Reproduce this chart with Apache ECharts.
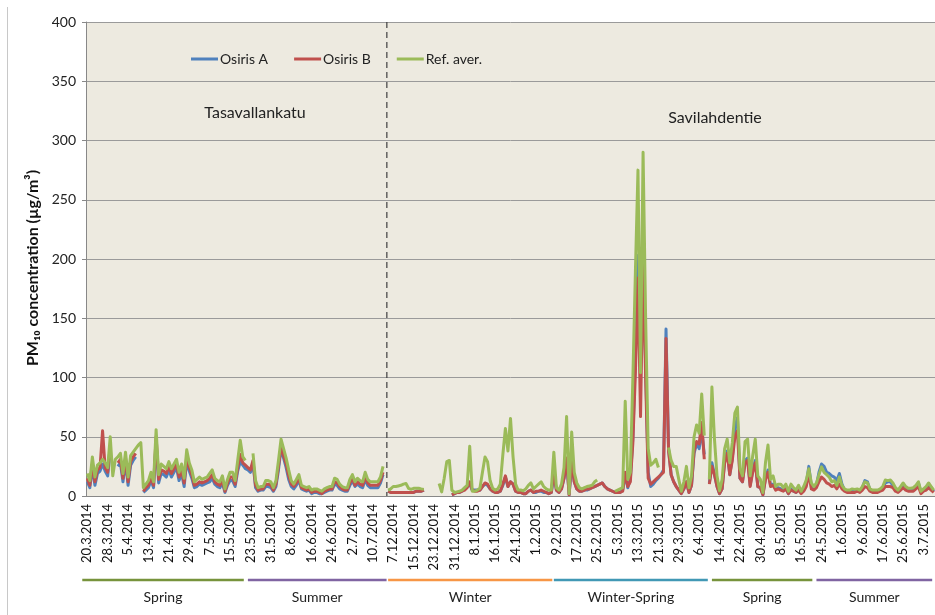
<!DOCTYPE html>
<html><head><meta charset="utf-8">
<script src="https://cdn.jsdelivr.net/npm/echarts@6/dist/echarts.min.js"></script>
<style>html,body{margin:0;padding:0;background:#fff;}#c{width:935px;height:615px;}</style>
</head><body><div id="c"></div>
<script>
// ---- categories: two measurement periods (daily) ----
const period1Start = [2014, 3, 20], period1Days = 118;   // Tasavallankatu
const period2Start = [2014, 12, 5], period2Days = 215;   // Savilahdentie

// ---- y axis ----
const yMin = 0, yMax = 400, yStep = 50;

// ---- series values (µg/m3) ----
const refAver2014 = [19,13,33,16,26,28,31,28,24,50, 17,31,33,36,19,37,16,34,37,40, 43,45,7,10,13,20,12,56,18,27,
  25,23,29,23,27,31,20,27,15,39, 28,22,12,14,16,14,15,16,19,22, 15,13,12,17,6,14,20,20,13,30,
  47,33,30,null,null,36,13,7,8,8, 13,13,12,7,13,30,48,40,32,22, 13,10,14,18,9,8,7,8,5,6,
  6,5,4,6,7,8,8,15,14,10, 8,7,7,14,18,12,15,13,12,20, 14,12,12,12,12,16,25,null];
const osirisB2014 = [15,9,27,12,22,24,55,24,20,42, null,null,28,31,15,32,12,29,33,36, null,null,4,7,9,16,9,50,14,22,
  21,19,25,19,23,27,16,22,11,33, 24,18,9,10,12,11,12,13,15,18, 12,10,9,13,4,11,16,16,10,24,
  35,28,26,24,22,30,9,5,6,6, 10,10,9,5,10,25,42,34,27,17, 10,8,11,15,7,6,5,6,3,4,
  4,3,2,4,5,6,6,12,11,8, 6,5,5,11,15,9,12,10,9,16, 11,9,9,9,9,13,20,null];
const osirisA2014 = [12,7,24,9,19,21,27,21,17,38, null,null,25,28,12,29,9,26,30,33, null,null,3,5,7,13,7,46,11,19,
  18,16,22,16,20,24,13,19,8,30, 21,15,7,8,10,9,10,11,12,15, 10,8,7,11,3,9,13,13,8,21,
  29,26,23,22,20,28,7,4,5,5, 8,8,7,4,8,22,40,32,24,14, 8,6,9,13,6,5,4,5,2,3,
  3,2,2,3,4,5,5,10,9,6, 5,4,4,9,13,8,10,8,7,14, 9,7,7,7,7,11,18,null];

const refAver2015 = [5,6,8,8,8.5,9,10,10.5,6.5,5.6,6.5,6.5,6.5,6,5.6,
  null,null,null,null,null,
  10.5,3.5,15,29,30,
  5,3,3.5,4,5,7,9,
  42,4,4,5,6.5,20,33,29,13,6.5,5,6,
  10,35,57,38,65.5,33,10,
  5,5,4.5,6,9,11,6,8,10,12,8,6,5,5,
  37,7,5,10,24,67,2,54,20,11,
  7,6,7,8,8.5,9,12,13.5,
  null,null,null,null,null,null,
  4,5,6,7,
  80,14,20,100,190,275,104,290,150,40,
  26,28,31,24,null,null,null,41,
  30,25,25,14,4,12,25,7,17,50,60,53,86,51,
  null,
  14,92,48,17,4.5,14,40,48,28,45,70,75,23,17,46,48,17,34,48,17,14,3,
  28,43,14,17,8,10,10,7,10,4,10,7,
  5,9,4,8,13.5,23,11,8,11,18, 24.6,20,18,16,12,13,9,16,9,6, 5,5,6,5.6,6,5,8,12,11,6,
  5,5,5,6,8,13.5,13,13.5,11,7, 5,8,11,8,6.5,6.5,7,9,12,4, 6,8,11,8,5];
const osirisB2015 = [4,3,3,3,3,3,3,3,3,3,3,4,4,4,5,
  null,null,null,null,null,null,null,null,null,null,
  1,2,3,3,4,5,7,
  12,5,4,4,5,8,11,10,6,4,3,3,
  4,10,17,8,12,10,4,
  3,3,2,2,4,5,3,4,4,5,4,3,2,3,
  20,5,3,6,15,32,1,30,12,6,
  4,4,5,6,6,7,8,9,
  10,11,8,6,5,4,
  3,3,3,4,
  20,8,12,45,105,184,67,197,100,15,
  10,12,14,16,18,20,133,38,
  18,12,8,5,2,6,12,3,9,38,46,44,62,31,
  null,
  10,25,18,8,2,6,28,36,18,30,50,55,15,12,28,30,8,20,28,8,7,1,
  14,20,8,9,5,6,5,4,6,2,5,4,
  3,5,2,4,8,19,6,5,7,12, 16,14,11,10,8,9,6,10,6,4, 3,3,3,3,4,3,5,8,7,4,
  3,3,3,4,5,8,8,8,7,4, 3,5,7,5,4,4,4,6,8,2, 4,5,7,5,3];
const osirisA2015 = [4,3,3,3,3,3,3,3,3,3,3,4,4,4,5,
  null,null,null,null,null,null,null,null,null,null,
  1,2,3,3,4,6,8,
  10,5,5,5,5,8,10,9,6,4,3,3,
  4,9,16,8,12,10,4,
  3,3,2,2,4,5,3,3,4,4,3,3,2,3,
  18,5,3,6,15,30,1,28,12,6,
  4,4,5,5,6,7,8,9,
  10,11,8,6,5,4,
  3,3,3,5,
  18,7,14,50,120,203,102,213,110,20,
  8,10,13,15,18,22,141,40,
  18,12,8,5,2,6,12,3,9,36,44,40,56,35,
  null,
  11,28,18,8,2,6,30,38,18,32,58,66,15,12,30,32,9,22,30,8,7,1,
  15,22,9,10,6,7,6,5,6,2,6,4,
  3,6,3,5,10,25,9,6,9,20, 27,25,20,19,17,16,13,19,10,5, 4,4,5,5,5,4,7,13,12,5,
  4,4,4,5,6,11,12,12,9,5, 4,7,10,7,5,5,6,8,11,3, 5,7,9,7,4];

// ---- seasons (annotation under the axis) ----
const seasonNames = ['Spring','Summer','Winter','Winter-Spring','Spring','Summer'];
const seasonFrom  = ['20.3.2014','22.5.2014','5.12.2014','8.2.2015','11.4.2015','22.5.2015'];
const seasonTo    = ['20.5.2014','15.7.2014','7.2.2015','9.4.2015','20.5.2015','6.7.2015'];
const seasonColors = ['#77933C','#8064A2','#F79646','#4198B5','#77933C','#8064A2'];

const siteNames = ['Tasavallankatu','Savilahdentie'];
const seriesNames = ['Osiris A','Osiris B','Ref. aver.'];
const seriesColors = ['#4F81BD','#C0504D','#9BBB59'];

function dayLabels(start, n) {
  const out = [];
  const d = new Date(Date.UTC(start[0], start[1]-1, start[2]));
  for (let i = 0; i < n; i++) {
    out.push(d.getUTCDate() + '.' + (d.getUTCMonth()+1) + '.' + d.getUTCFullYear());
    d.setUTCDate(d.getUTCDate() + 1);
  }
  return out;
}
const categories = dayLabels(period1Start, period1Days).concat(dayLabels(period2Start, period2Days));
const osirisA = osirisA2014.concat(osirisA2015);
const osirisB = osirisB2014.concat(osirisB2015);
const refAver = refAver2014.concat(refAver2015);

const FONT = 'Lato, "Open Sans", sans-serif';
const chart = echarts.init(document.getElementById('c'), null, {renderer: 'canvas'});
const mk = (name, data, color, z) => ({
  name, type: 'line', data, showSymbol: false, symbol: 'none', connectNulls: false,
  lineStyle: {color, width: 3, join: 'round'}, itemStyle: {color}, z, animation: false
});
chart.setOption({
  animation: false,
  backgroundColor: '#fff',
  grid: {left: 86, right: 0, top: 22, bottom: 119, show: true, backgroundColor: '#EDEAE0', borderWidth: 0},
  legend: {
    left: 186, top: 47, itemWidth: 27, itemHeight: 3, itemGap: 26, icon: 'rect',
    textStyle: {fontFamily: FONT, fontSize: 14, color: '#222', padding: [0,0,0,-3]},
    data: seriesNames
  },
  xAxis: {
    type: 'category', data: categories, boundaryGap: true,
    axisLine: {lineStyle: {color: '#888', width: 1}},
    axisTick: {show: false},
    axisLabel: {rotate: 90, interval: 7, fontFamily: FONT, fontSize: 13, color: '#111', margin: 8}
  },
  yAxis: {
    type: 'value', min: yMin, max: yMax, interval: yStep,
    axisLine: {show: true, lineStyle: {color: '#888'}},
    axisTick: {show: true, length: 4, lineStyle: {color: '#888'}},
    axisLabel: {fontFamily: FONT, fontSize: 14, color: '#222', margin: 10},
    splitLine: {lineStyle: {color: '#9a9a9a', width: 1}}
  },
  series: [
    mk(seriesNames[0], osirisA, seriesColors[0], 2),
    mk(seriesNames[1], osirisB, seriesColors[1], 3),
    mk(seriesNames[2], refAver, seriesColors[2], 4)
  ]
});

// ---- annotations placed through the axes ----
const px = c => chart.convertToPixel({xAxisIndex: 0}, c);
const plotTop = chart.convertToPixel({yAxisIndex: 0}, yMax);
const plotBottom = chart.convertToPixel({yAxisIndex: 0}, yMin);
const divX = (px(period1Days - 1) + px(period1Days)) / 2;
const graphics = [
  {type: 'line', shape: {x1: 7.5, y1: 7, x2: 7.5, y2: 615}, style: {stroke: '#c8c8c8', lineWidth: 1}, silent: true},
  {type: 'line', z: 10, shape: {x1: divX, y1: plotTop, x2: divX, y2: plotBottom},
   style: {stroke: '#404040', lineWidth: 1.2, lineDash: [6, 4]}},
  {type: 'text', z: 10, x: 255, y: 113, style: {text: siteNames[0], fontFamily: FONT, fontSize: 16, fill: '#222', align: 'center', verticalAlign: 'middle'}},
  {type: 'text', z: 10, x: 715, y: 118, style: {text: siteNames[1], fontFamily: FONT, fontSize: 16, fill: '#222', align: 'center', verticalAlign: 'middle'}},
  {type: 'text', x: 33, y: 268, rotation: Math.PI / 2,
   style: {text: 'PM\u2081\u2080 concentration (\u00b5g/m\u00b3)', fontFamily: FONT, fontSize: 16, fontWeight: 'bold', fill: '#111', align: 'center', verticalAlign: 'middle'}}
];
seasonNames.forEach((n, k) => {
  const x1 = px(seasonFrom[k]) - (k === 0 ? 5 : 0), x2 = px(seasonTo[k]) + 1;
  graphics.push({type: 'line', shape: {x1, y1: 580, x2, y2: 580}, style: {stroke: seasonColors[k], lineWidth: 2.5}});
  graphics.push({type: 'text', x: (x1 + x2) / 2, y: 597, style: {text: n, fontFamily: FONT, fontSize: 14, fill: '#222', align: 'center', verticalAlign: 'middle'}});
});
chart.setOption({graphic: graphics});
</script></body></html>
